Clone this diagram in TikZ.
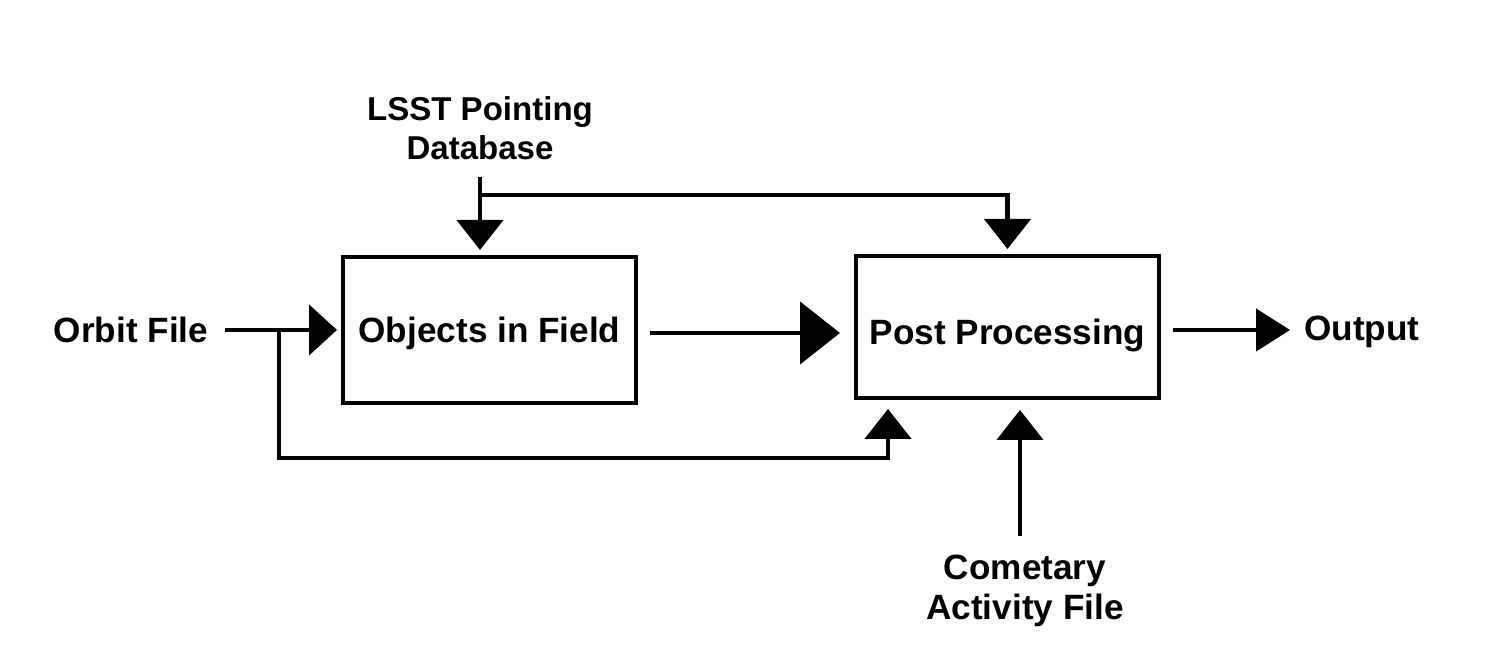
\documentclass[tikz,border=0pt]{standalone}
\usepackage{fontspec}
\setmainfont{Liberation Sans}
\usepackage{tikz}
\usetikzlibrary{arrows.meta, positioning}

\begin{document}
\begin{tikzpicture}[
	font=\bfseries\fontsize{10}{11.4}\selectfont,
	block/.style={draw, line width=1.3pt, inner sep=0pt, outer sep=0pt, text depth=0pt},
	label/.style={align=center, inner sep=1pt},
	flow/.style={line width=1.3pt},
	tipa/.style={-{Triangle[width=5mm, length=2.8mm]}},
	tipb/.style={-{Triangle[width=6.2mm, length=4mm]}},
	tipc/.style={-{Triangle[width=4.6mm, length=3mm]}},
	tipd/.style={-{Triangle[width=4.2mm, length=3.4mm]}}
	]
	\useasboundingbox (0,0) rectangle (15,-6.65);
	
	\node (fld) [block, minimum width=2.93cm, minimum height=1.46cm, text height=7.4pt] at (4.895,-3.30) {Objects in Field};
	\node (post) [block, minimum width=3.03cm, minimum height=1.42cm, text height=10pt] at (10.075,-3.27) {Post Processing};
	\node (orbit) [label] at (1.31,-3.30) {Orbit File};
	\node (output) [label, anchor=west] at (13.00,-3.32) {Output};
	\node (lsst) [label, font=\bfseries\fontsize{9.4}{11.1}\selectfont] at (4.80,-1.28) {LSST Pointing\\Database};
	\node (comet) [label] at (10.25,-5.91) {Cometary\\Activity File};
	
	\coordinate (br) at (2.79,-3.30);
	\coordinate (top) at (4.80,-1.95);
	\coordinate (fldout) at ([yshift=-0.3mm]fld.east);
	\coordinate (postout) at ([yshift=-0.3mm]post.east);
	
	\draw [flow, tipa, shorten <=1.3mm, shorten >=0.6mm] (orbit.east) -- (fld.west);
	\draw [flow, tipc, shorten >=1.1mm] (br) -- ++(0,-1.28) -| ([xshift=3.2mm]post.south west);
	\draw [flow, tipc, shorten <=1.3mm, shorten >=0.7mm] (lsst.south) -- (lsst.south |- fld.north);
	\draw [flow, tipc, shorten >=0.7mm] (top) -| (post.north);
	\draw [flow, tipb, shorten <=1.4mm, shorten >=1.6mm] (fldout) -- (fldout -| post.west);
	\draw [flow, tipd, shorten <=1.4mm, shorten >=1mm] (postout) -- (postout -| output.west);
	\draw [flow, tipc, shorten <=1.5mm, shorten >=1.2mm] ([xshift=-0.5mm]comet.north) -- ([xshift=-0.5mm]comet.north |- post.south);
	
\end{tikzpicture}
\end{document}
